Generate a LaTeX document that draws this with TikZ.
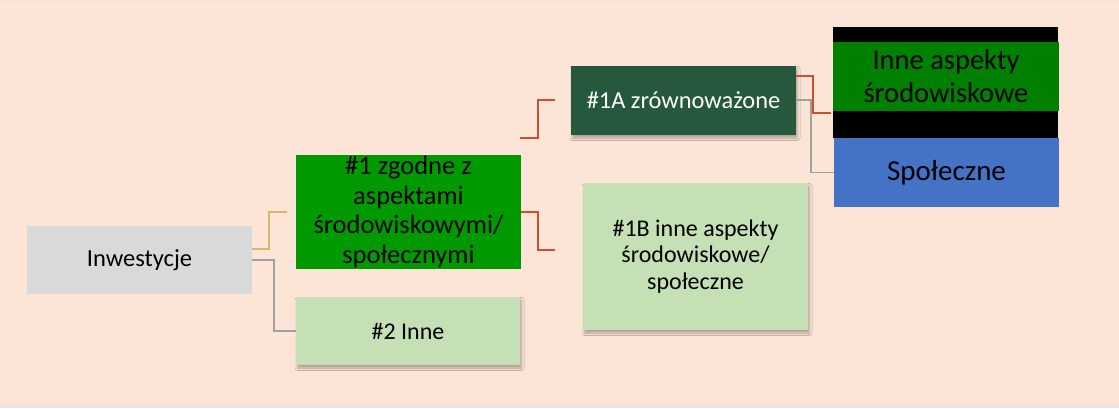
\documentclass[tikz,border=0pt]{standalone}
\usepackage{fontspec}
\setmainfont{Carlito}
\usetikzlibrary{shadows.blur,calc}
\definecolor{bgpeach}{RGB}{252,228,214}
\definecolor{edgegrey}{RGB}{230,230,230}
\definecolor{inwgrey}{RGB}{217,217,217}
\definecolor{brightgreen}{RGB}{0,153,0}
\definecolor{darkgreen}{RGB}{37,88,60}
\definecolor{lightgreen}{RGB}{197,224,180}
\definecolor{midgreen}{RGB}{0,128,0}
\definecolor{socblue}{RGB}{68,114,196}
\definecolor{linered}{RGB}{200,80,45}
\definecolor{lineyellow}{RGB}{205,188,110}
\definecolor{linegrey}{RGB}{160,160,160}
\tikzset{
  box/.style={rectangle, inner sep=0pt, align=center, font=\fontsize{24}{28}\selectfont},
  shad/.style={blur shadow={shadow xshift=1.5pt, shadow yshift=-3pt, shadow blur radius=2.5pt, shadow opacity=30}},
  redline/.style={draw=linered, line width=2pt},
  greyline/.style={draw=linegrey, line width=1.5pt},
  yelline/.style={draw=lineyellow, line width=2pt},
}
\begin{document}
\begin{tikzpicture}[x=1pt,y=-1pt]
\useasboundingbox (0,0) rectangle (1119,409);
\fill[white] (0,0) rectangle (1119,409);
\fill[bgpeach] (0,0) rectangle (1119,406);
\fill[edgegrey] (0,0) rectangle (1119,1.5);
\fill[edgegrey] (0,405.5) rectangle (1119,407.5);

% nodes
\node[box, fill=inwgrey, minimum width=225pt, minimum height=68pt, font=\fontsize{24.5}{28}\selectfont] (inw) at (139.5,260) {Inwestycje};
\node[box, fill=brightgreen, minimum width=225pt, minimum height=114pt, font=\fontsize{26.5}{29.5}\selectfont] (z1) at (408.5,212) {\#1 zgodne z\\aspektami\\środowiskowymi/\\społecznymi};
\node[box, fill=lightgreen, shad, minimum width=224pt, minimum height=68pt] (i2) at (408,331) {\#2 Inne};
\node[box, fill=darkgreen, text=white, shad, minimum width=225pt, minimum height=69pt, font=\fontsize{24.4}{28}\selectfont] (a1) at (683.5,100.5) {\#1A zrównoważone};
\node[box, fill=lightgreen, shad, minimum width=225pt, minimum height=147pt, font=\fontsize{24}{26.7}\selectfont] (b1) at (695.5,256.5) {\#1B inne aspekty\\środowiskowe/\\społeczne};
\node[rectangle, fill=black, minimum width=225pt, minimum height=111pt, inner sep=0pt] (blk) at (945.5,82.5) {};
\node[box, fill=midgreen, minimum width=226pt, minimum height=69pt, font=\fontsize{28.5}{33}\selectfont] (ina) at (946,76.5) {Inne aspekty\\środowiskowe};
\node[box, fill=socblue, minimum width=225pt, minimum height=69pt, font=\fontsize{29}{33}\selectfont] (spo) at (946.5,172.5) {Społeczne};

% free ends
\coordinate (e1) at (287,212);
\coordinate (s3) at (520,138);
\coordinate (e3) at (555,100);
\coordinate (e4) at (555,250);
\coordinate (e5) at (831,113);

% connectors
\draw[yelline] (inw.east) ++(0,-11) -- ++(17,0) |- (e1);
\draw[greyline] (inw.east) -- ++(22,0) |- (i2.west);
\draw[redline] (s3) -- ++(18,0) |- (e3);
\draw[redline] (z1.east) -- ++(17,0) |- (e4);
\draw[redline] (a1.east) ++(0,-24.5) -- ++(17,0) |- (e5);
\draw[greyline] (a1.east) ++(0,-0.5) -- ++(15,0) |- (spo.west);
\end{tikzpicture}
\end{document}
